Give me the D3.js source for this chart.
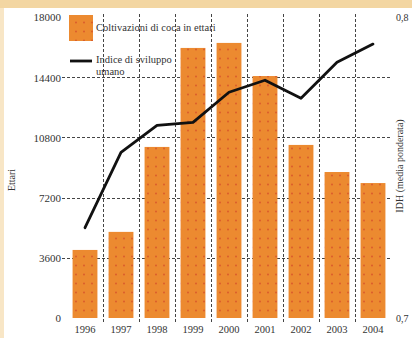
<!DOCTYPE html>
<html>
<head>
<meta charset="utf-8">
<script src="https://cdn.jsdelivr.net/npm/d3@7"></script>
<style>
  html, body { margin: 0; padding: 0; background: #fff; }
  svg { display: block; }
  text { font-family: "Liberation Serif", "DejaVu Serif", serif; fill: #333; }
</style>
</head>
<body>
<div id="chart"></div>
<script>
// Coca cultivation (hectares) and weighted HDI, 1996-2004
const years = ["1996", "1997", "1998", "1999", "2000", "2001", "2002", "2003", "2004"];
const hectares = [4070, 5150, 10230, 16150, 16450, 14470, 10350, 8730, 8070];
const hdi = [0.730, 0.755, 0.764, 0.765, 0.775, 0.779, 0.773, 0.785, 0.791];
const leftTicks = [0, 3600, 7200, 10800, 14400, 18000];
const rightTicks = [0.7, 0.8];

const W = 412, H = 338;
const svg = d3.select("#chart").append("svg").attr("width", W).attr("height", H);

// page frame: top band and left rule
svg.append("rect").attr("x", 0).attr("y", 0).attr("width", W).attr("height", 8).attr("fill", "#f3d6a2");
svg.append("rect").attr("x", 0).attr("y", 8).attr("width", 4).attr("height", H - 8).attr("fill", "#f8e6c6");

const plot = { left: 67, right: 391, top: 17, bottom: 318 };

const x = d3.scaleBand().domain(years).range([plot.left, plot.right])
  .paddingInner(0.31).paddingOuter(0.155);
const y = d3.scaleLinear().domain([0, 18000]).range([plot.bottom, plot.top]);
const y2 = d3.scaleLinear().domain([0.7, 0.8]).range([plot.bottom, plot.top]);

// dotted fill for the bars
const defs = svg.append("defs");
const pat = defs.append("pattern").attr("id", "dots").attr("patternUnits", "userSpaceOnUse")
  .attr("width", 8).attr("height", 9);
pat.append("rect").attr("width", 8).attr("height", 9).attr("fill", "#ec8a30");
pat.append("circle").attr("cx", 4).attr("cy", 4.5).attr("r", 0.9).attr("fill", "#d9572a");

// horizontal grid at inner ticks
const grid = svg.append("g").attr("stroke", "#444").attr("stroke-width", 1).attr("stroke-dasharray", "3,2");
grid.selectAll("line.h").data(leftTicks.filter(t => t > 0 && t < 18000)).join("line")
  .attr("class", "h")
  .attr("x1", 62).attr("x2", plot.right)
  .attr("y1", d => Math.round(y(d)) + 0.5).attr("y2", d => Math.round(y(d)) + 0.5);

// vertical grid between the year bands
const step = x.step();
grid.selectAll("line.v").data(years.slice(1)).join("line")
  .attr("class", "v")
  .attr("x1", d => Math.round(x(d) - step * x.paddingInner() / 2) + 0.5)
  .attr("x2", d => Math.round(x(d) - step * x.paddingInner() / 2) + 0.5)
  .attr("y1", 14).attr("y2", 322);

// bars
svg.append("g").selectAll("rect").data(years).join("rect")
  .attr("x", d => x(d))
  .attr("width", x.bandwidth())
  .attr("y", (d, i) => y(hectares[i]))
  .attr("height", (d, i) => y(0) - y(hectares[i]))
  .attr("fill", "url(#dots)");

// HDI line
const line = d3.line()
  .x((d, i) => x(years[i]) + x.bandwidth() / 2)
  .y(d => y2(d));
svg.append("path").datum(hdi)
  .attr("d", line)
  .attr("fill", "none").attr("stroke", "#111").attr("stroke-width", 2.8)
  .attr("stroke-linejoin", "round").attr("stroke-linecap", "round");

// left axis labels
const leftAxis = d3.axisLeft(y).tickValues(leftTicks).tickSize(0).tickPadding(0)
  .tickFormat(d => String(d));
const gL = svg.append("g").attr("transform", "translate(61,0)").call(leftAxis);
gL.select(".domain").remove();
gL.selectAll("text").attr("font-size", 11).attr("fill", "#555")
  .style("font-family", "'Liberation Serif', serif").attr("dy", "0.35em");

// right axis labels
const rightAxis = d3.axisRight(y2).tickValues(rightTicks).tickSize(0).tickPadding(0)
  .tickFormat(d => d3.format(".1f")(d).replace(".", ","));
const gR = svg.append("g").attr("transform", "translate(396,0)").call(rightAxis);
gR.select(".domain").remove();
gR.selectAll("text").attr("font-size", 10).attr("fill", "#555")
  .style("font-family", "'Liberation Serif', serif").attr("dy", "0.35em");

// bottom axis labels
const bottomAxis = d3.axisBottom(x).tickSize(0).tickPadding(0);
const gB = svg.append("g").attr("transform", "translate(0,326)").call(bottomAxis);
gB.select(".domain").remove();
gB.selectAll("text").attr("font-size", 10.5).attr("fill", "#555")
  .style("font-family", "'Liberation Serif', serif").attr("dy", "0.71em");

// axis titles
svg.append("text").attr("transform", "translate(15,180) rotate(-90)")
  .attr("text-anchor", "middle").attr("font-size", 10).attr("fill", "#222").text("Ettari");
svg.append("text").attr("transform", "translate(403,166) rotate(-90)")
  .attr("text-anchor", "middle").attr("font-size", 10).attr("fill", "#222").text("IDH (media ponderata)");

// legend
const lg = svg.append("g");
lg.append("rect").attr("x", 69).attr("y", 15).attr("width", 24).attr("height", 26).attr("fill", "url(#dots)");
lg.append("text").attr("x", 96).attr("y", 31).attr("font-size", 10.5).text("Coltivazioni di coca in ettari");
lg.append("line").attr("x1", 70).attr("x2", 92).attr("y1", 61).attr("y2", 61)
  .attr("stroke", "#111").attr("stroke-width", 2.8);
lg.append("text").attr("x", 96).attr("y", 63).attr("font-size", 10.5).text("Indice di sviluppo");
lg.append("text").attr("x", 96).attr("y", 75).attr("font-size", 10.5).text("umano");
</script>
</body>
</html>
